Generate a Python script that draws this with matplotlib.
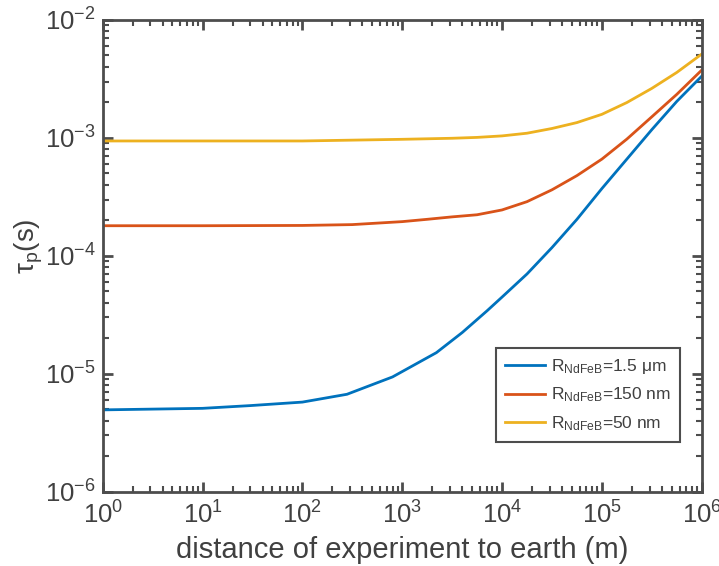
import matplotlib
matplotlib.use('Agg')
import matplotlib.pyplot as plt
from matplotlib.ticker import LogLocator, NullFormatter

# values (distance in m, tau_p in s)
blue_x = [1, 10, 30, 100, 280, 800, 2200, 4000, 7079, 1e4, 17783, 31623,
          56234, 1e5, 177828, 316228, 562341, 1e6]
blue_y = [4.94e-6, 5.09e-6, 5.37e-6, 5.75e-6, 6.70e-6, 9.40e-6, 1.51e-5,
          2.24e-5, 3.42e-5, 4.47e-5, 7.02e-5, 1.175e-4, 2.04e-4, 3.72e-4,
          6.61e-4, 1.175e-3, 2.04e-3, 3.34e-3]

red_x = [1, 10, 100, 316, 1000, 1778, 3162, 5623, 1e4, 17783, 31623, 56234,
         1e5, 177828, 316228, 562341, 1e6]
red_y = [1.80e-4, 1.80e-4, 1.81e-4, 1.84e-4, 1.95e-4, 2.04e-4, 2.14e-4,
         2.23e-4, 2.45e-4, 2.88e-4, 3.63e-4, 4.79e-4, 6.61e-4, 9.77e-4,
         1.51e-3, 2.34e-3, 3.76e-3]

yellow_x = [1, 100, 1000, 3162, 5623, 1e4, 17783, 31623, 56234, 1e5, 177828,
            316228, 562341, 1e6]
yellow_y = [9.42e-4, 9.42e-4, 9.73e-4, 9.93e-4, 1.010e-3, 1.040e-3, 1.096e-3,
            1.202e-3, 1.349e-3, 1.585e-3, 1.995e-3, 2.63e-3, 3.59e-3, 5.14e-3]

labels = [r'R$_{\mathrm{NdFeB}}$=1.5 $\mathrm{\mu}$m',
          r'R$_{\mathrm{NdFeB}}$=150 nm',
          r'R$_{\mathrm{NdFeB}}$=50 nm']
colors = ['#0072BD', '#D95319', '#EDB120']

plt.rcParams['font.family'] = ['Liberation Sans', 'DejaVu Sans']
plt.rcParams['mathtext.fontset'] = 'custom'
plt.rcParams['mathtext.rm'] = 'Liberation Sans'
plt.rcParams['mathtext.it'] = 'Liberation Sans:italic'
plt.rcParams['mathtext.default'] = 'regular'

axcol = '#4d4d4d'
txtcol = '#404040'

fig = plt.figure(figsize=(7.19, 5.66), dpi=100)
ax = fig.add_axes([0.1428, 0.1313, 0.8332, 0.8334])

for xs, ys, c, lab in zip([blue_x, red_x, yellow_x], [blue_y, red_y, yellow_y],
                          colors, labels):
    ax.plot(xs, ys, color=c, lw=2, label=lab, solid_joinstyle='round')

ax.set_xscale('log')
ax.set_yscale('log')
ax.set_xlim(1, 1e6)
ax.set_ylim(1e-6, 1e-2)

ax.xaxis.set_major_locator(LogLocator(base=10, numticks=10))
ax.yaxis.set_major_locator(LogLocator(base=10, numticks=10))
ax.xaxis.set_minor_locator(LogLocator(base=10, subs=range(2, 10), numticks=20))
ax.yaxis.set_minor_locator(LogLocator(base=10, subs=range(2, 10), numticks=20))
ax.xaxis.set_minor_formatter(NullFormatter())
ax.yaxis.set_minor_formatter(NullFormatter())

for s in ax.spines.values():
    s.set_color(axcol)
    s.set_linewidth(2)
ax.tick_params(which='both', direction='in', top=True, right=True,
               color=axcol, labelcolor=txtcol, labelsize=18.5)
ax.tick_params(which='major', length=7, width=2)
ax.tick_params(axis='x', which='major', pad=7)
ax.tick_params(axis='y', which='major', pad=5)
ax.tick_params(which='minor', length=4, width=1.5)

ax.set_xlabel('distance of experiment to earth (m)', fontsize=21, color=txtcol,
              labelpad=5)
ax.set_ylabel(r'$\tau_{p}$(s)', fontsize=20, color=txtcol)
ax.yaxis.set_label_coords(-0.096, 0.52)

leg = ax.legend(loc='lower right', bbox_to_anchor=(0.964, 0.105), fontsize=12.5,
                frameon=True, fancybox=False, framealpha=1, handlelength=2.3,
                labelspacing=0.55, borderpad=0.55, handletextpad=0.3,
                borderaxespad=0)
leg.get_frame().set_edgecolor(axcol)
leg.get_frame().set_linewidth(1.5)
for t in leg.get_texts():
    t.set_color(txtcol)

fig.savefig('out.png', dpi=100)
